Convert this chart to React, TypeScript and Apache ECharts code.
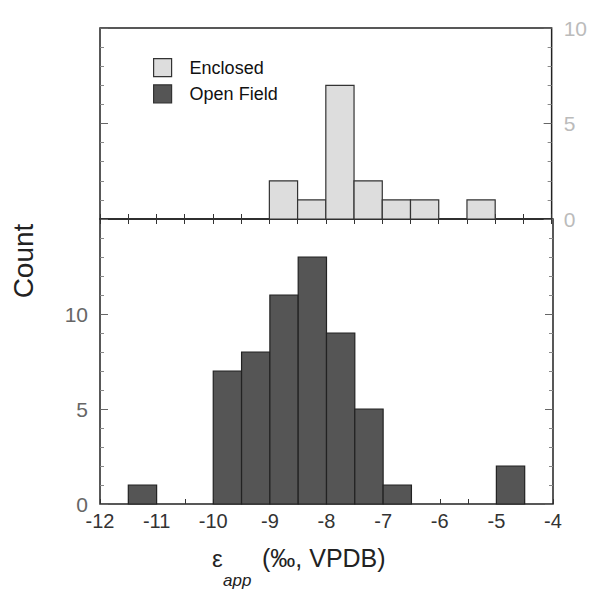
import React, { useEffect, useRef } from "react";
import * as echarts from "echarts";

const BIN_WIDTH = 0.5;
const enclosedBins = [-9, -8.5, -8, -7.5, -7, -6.5, -5.5];
const enclosedCounts = [2, 1, 7, 2, 1, 1, 1];
const openBins = [-11.5, -10, -9.5, -9, -8.5, -8, -7.5, -7, -5];
const openCounts = [1, 7, 8, 11, 13, 9, 5, 1, 2];
const xMin = -12;
const xMax = -4;

const FONT = "'Liberation Sans', Arial, Helvetica, sans-serif";

function makeRender(fill: string, stroke: string) {
  return (params: any, api: any) => {
    const x0 = api.value(0);
    const c = api.value(1);
    const p0 = api.coord([x0, 0]);
    const p1 = api.coord([x0 + BIN_WIDTH, c]);
    return {
      type: "rect",
      shape: { x: p0[0], y: p1[1], width: p1[0] - p0[0], height: p0[1] - p1[1] },
      style: { fill, stroke, lineWidth: 1.2 },
    };
  };
}

export default function App() {
  const ref = useRef<HTMLDivElement>(null);
  useEffect(() => {
    if (!ref.current) return;
    const chart = echarts.init(ref.current, undefined, { renderer: "svg" });
    const xBase = (gridIndex: number, position: string, showTicks: boolean, showLabels: boolean) => ({
      type: "value",
      gridIndex,
      position,
      min: xMin,
      max: xMax,
      interval: 1,
      axisLine: { show: false },
      splitLine: { show: false },
      axisTick: { show: showTicks, inside: true, length: 5, lineStyle: { color: "#333", width: 1 } },
      minorTick: { show: showTicks, splitNumber: 2, length: 5, lineStyle: { color: "#333", width: 1 } },
      axisLabel: {
        show: showLabels,
        color: "#333",
        fontSize: 20,
        fontFamily: FONT,
        margin: 7,
      },
    });
    const yBase = (gridIndex: number, position: string, max: number, showLabels: boolean, labelColor: string) => ({
      type: "value",
      gridIndex,
      position,
      min: 0,
      max,
      interval: 5,
      axisLine: { show: false },
      splitLine: { show: false },
      axisTick: { show: true, inside: true, length: 8, lineStyle: { color: "#666", width: 1 } },
      minorTick: { show: true, splitNumber: 5, length: 4, lineStyle: { color: "#888", width: 1 } },
      axisLabel: {
        show: showLabels,
        showMaxLabel: max === 10,
        color: labelColor,
        fontSize: 21,
        fontFamily: FONT,
        margin: 12,
      },
    });
    chart.setOption({
      animation: false,
      backgroundColor: "#fff",
      grid: [
        { left: 100, width: 453, top: 28, height: 191, show: true, borderColor: "#222", borderWidth: 1.5, backgroundColor: "transparent" },
        { left: 100, width: 453, top: 219, height: 285, show: true, borderColor: "#222", borderWidth: 1.5, backgroundColor: "transparent" },
      ],
      xAxis: [
        xBase(0, "bottom", true, false),
        xBase(0, "top", true, false),
        xBase(1, "bottom", true, true),
        xBase(1, "top", false, false),
      ],
      yAxis: [
        yBase(0, "left", 10, false, "#666"),
        yBase(0, "right", 10, true, "#bbb"),
        yBase(1, "left", 15, true, "#666"),
        yBase(1, "right", 15, false, "#666"),
      ],
      legend: {
        orient: "vertical",
        left: 153,
        top: 58,
        padding: 0,
        itemWidth: 18,
        itemHeight: 18,
        itemGap: 7,
        textStyle: { fontSize: 18, fontFamily: FONT, color: "#111", padding: [0, 0, 0, 13] },
        data: [
          { name: "Enclosed", icon: "rect", itemStyle: { color: "#dddddd", borderColor: "#333", borderWidth: 1.2 } },
          { name: "Open Field", icon: "rect", itemStyle: { color: "#555555", borderColor: "#333", borderWidth: 1.2 } },
        ],
      },
      series: [
        {
          name: "Enclosed",
          type: "custom",
          xAxisIndex: 0,
          yAxisIndex: 0,
          itemStyle: { color: "#dddddd", borderColor: "#333" },
          renderItem: makeRender("#dddddd", "#333"),
          encode: { x: 0, y: 1 },
          data: enclosedBins.map((b, i) => [b, enclosedCounts[i]]),
        },
        {
          name: "Open Field",
          type: "custom",
          xAxisIndex: 2,
          yAxisIndex: 2,
          itemStyle: { color: "#555555", borderColor: "#222" },
          renderItem: makeRender("#555555", "#222"),
          encode: { x: 0, y: 1 },
          data: openBins.map((b, i) => [b, openCounts[i]]),
        },
      ],
      graphic: [
        {
          type: "text",
          x: 23,
          y: 261,
          rotation: Math.PI / 2,
          style: { text: "Count", fontSize: 28, fontFamily: FONT, fill: "#222", align: "center", verticalAlign: "middle" },
        },
        {
          type: "text",
          x: 212,
          y: 558,
          style: { text: "ε", fontSize: 24, fontFamily: FONT, fill: "#222", align: "left", verticalAlign: "middle" },
        },
        {
          type: "text",
          x: 223,
          y: 580,
          style: { text: "app", fontSize: 17, fontStyle: "italic", fontFamily: FONT, fill: "#222", align: "left", verticalAlign: "middle" },
        },
        {
          type: "text",
          x: 262,
          y: 558,
          style: { text: "(‰, VPDB)", fontSize: 25, fontFamily: FONT, fill: "#222", align: "left", verticalAlign: "middle" },
        },
      ],
    });
    return () => chart.dispose();
  }, []);
  return <div ref={ref} style={{ position: "absolute", left: 0, top: 0, width: 590, height: 590 }} />;
}
